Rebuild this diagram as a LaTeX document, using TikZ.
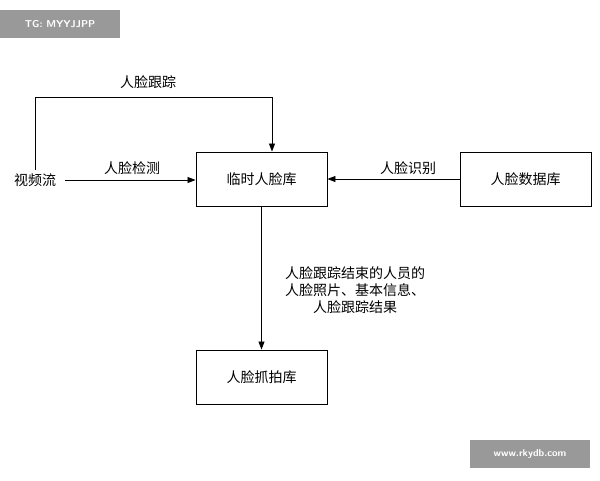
\documentclass[tikz,border=0pt]{standalone}
\usepackage{fontspec}
\newfontfamily\cjk{Noto Sans CJK SC}
\usetikzlibrary{arrows.meta}
\begin{document}
\begin{tikzpicture}[x=1pt,y=-1pt,font=\cjk\fontsize{14}{17}\selectfont,
  box/.style={draw,line width=0.9pt,minimum width=131pt,minimum height=54pt,inner sep=0pt},
  arr/.style={-{Triangle[length=8pt,width=6pt]},line width=0.8pt},
  wm/.style={fill=black!40,text=white,font=\sffamily\bfseries\fontsize{10}{12}\selectfont,minimum height=28pt,minimum width=120pt,inner sep=0pt}]
\useasboundingbox (0,0) rectangle (600,480);
\node[wm] (wm1) at (60,24) {TG: MYYJJPP};
\node[wm] (wm2) at (530,454) {www.rkydb.com};
\node[box] (tmp) at (261.5,179) {临时人脸库};
\node[box] (db) at (525.5,179) {人脸数据库};
\node[box] (cap) at (261.5,377) {人脸抓拍库};
\node (vid) at (35,180) {视频流};
\coordinate (vr) at (65,180);
\coordinate (c1) at (35,97);
\coordinate (c2) at (272,97);
\draw[line width=0.8pt] (vid.north) -- (c1) -- (c2);
\draw[arr] (c2) -- (c2 |- tmp.north);
\node (lt) at (148,82) {人脸跟踪};
\draw[arr] (vr) -- (tmp.west |- vr);
\node (ld) at (132,168) {人脸检测};
\draw[arr] (db.west) -- (tmp.east);
\node (lr) at (408,168) {人脸识别};
\draw[arr] (tmp.south) -- (cap.north);
\node[align=center] (lres) at (355,290) {人脸跟踪结束的人员的\\人脸照片、基本信息、\\人脸跟踪结果};
\end{tikzpicture}
\end{document}
